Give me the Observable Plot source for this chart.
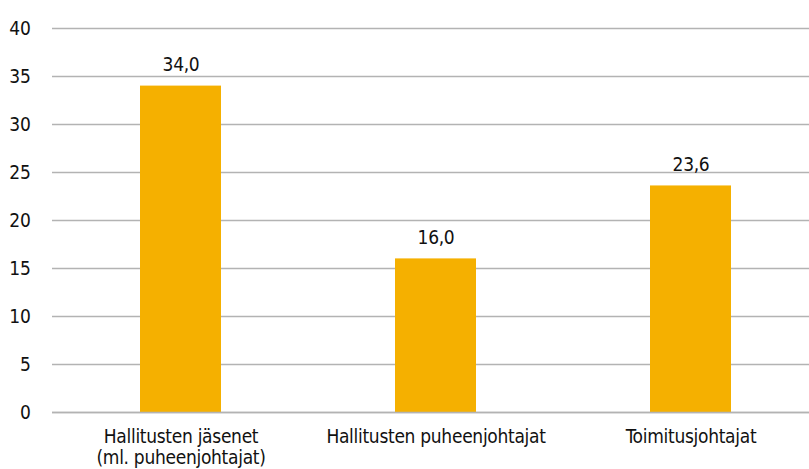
<!DOCTYPE html>
<html>
<head>
<meta charset="utf-8">
<script src="https://cdn.jsdelivr.net/npm/d3@7"></script>
<script src="https://cdn.jsdelivr.net/npm/@observablehq/plot@0.6"></script>
<style>
  html, body { margin: 0; padding: 0; background: #fff; overflow: hidden; width: 809px; height: 469px; }
  svg { display: block; overflow: hidden; }
  svg text { letter-spacing: -0.3px; }
</style>
</head>
<body>
<div id="chart"></div>
<script>
const categories = ["Hallitusten jäsenet\n(ml. puheenjohtajat)", "Hallitusten puheenjohtajat", "Toimitusjohtajat"];
const values = [34.0, 16.0, 23.6];
const yTicks = [0, 5, 10, 15, 20, 25, 30, 35, 40];

const data = categories.map((c, i) => ({category: c, value: values[i]}));
const fmt = v => v.toFixed(1).replace(".", ",");
const font = "'DejaVu Sans Condensed', 'Liberation Sans Narrow', sans-serif";

const chart = Plot.plot({
  width: 809,
  height: 469,
  marginLeft: 52,
  marginRight: -10,
  marginTop: 28,
  marginBottom: 57,
  style: {fontFamily: font, fontSize: "19px", color: "#111", background: "#fff", overflow: "hidden"},
  x: {domain: categories, paddingInner: 0.683, paddingOuter: 0.3415, label: null},
  y: {domain: [0, 40], ticks: yTicks, label: null},
  marks: [
    Plot.ruleY(yTicks, {stroke: "#b3b3b3", strokeWidth: 1.5}),
    Plot.barY(data, {x: "category", y: "value", fill: "#f5b000"}),
    Plot.ruleY([0], {stroke: "#b3b3b3", strokeWidth: 1.5}),
    Plot.text(data, {x: "category", y: "value", text: d => fmt(d.value), lineAnchor: "bottom", dy: -15, fontSize: 19, fill: "#111"}),
    Plot.axisY({ticks: yTicks, tickSize: 0, tickPadding: 22, fontSize: 19, label: null}),
    Plot.axisX({tickSize: 0, tickPadding: 15, fontSize: 19, lineHeight: 1.12, label: null})
  ]
});
document.getElementById("chart").appendChild(chart);
</script>
</body>
</html>
